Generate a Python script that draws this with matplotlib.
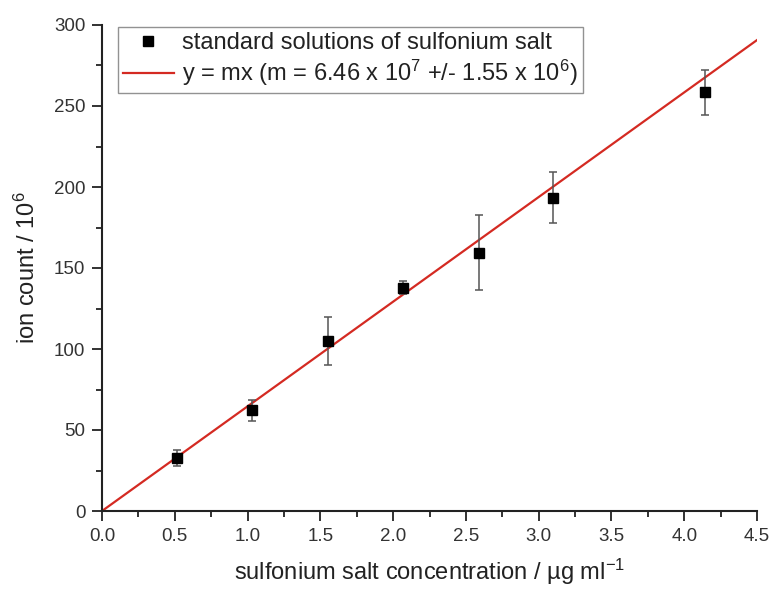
import numpy as np
import matplotlib
matplotlib.use("Agg")
from matplotlib import pyplot as plt
from matplotlib.ticker import MultipleLocator, FormatStrFormatter

"""
Calibration of sulfonium salt standards: ion count vs concentration.
"""

conc = [0.515, 1.03, 1.55, 2.07, 2.59, 3.10, 4.14]
ion_count = [32.7, 62.3, 105.0, 137.7, 159.5, 193.5, 258.5]
ion_err = [5.0, 6.5, 15.0, 4.0, 23.0, 15.5, 14.0]
slope = 64.6  # 6.46 x 10^7 / 10^6
x_fit = [0.0, 4.5]

plt.rcParams['font.family'] = ['Liberation Sans', 'DejaVu Sans']
plt.rcParams['mathtext.default'] = 'regular'

fig = plt.figure(figsize=(7.72, 5.89), dpi=100)
ax = fig.add_axes([102 / 772, 1 - 511 / 589, 655 / 772, 486 / 589])

ax.errorbar(conc, ion_count, yerr=ion_err, fmt='none', ecolor='#555555',
            elinewidth=1.1, capsize=3, capthick=1.1, zorder=3)
ax.plot(conc, ion_count, 's', color='black', ms=7, zorder=4,
        label='standard solutions of sulfonium salt')
ax.plot(x_fit, [slope * v for v in x_fit], color='#d42a22', lw=1.6, zorder=2,
        label=r'y = mx (m = 6.46 x 10$^{7}$ +/- 1.55 x 10$^{6}$)')

ax.set_xlim(0, 4.5)
ax.set_ylim(0, 300)
ax.xaxis.set_major_locator(MultipleLocator(0.5))
ax.xaxis.set_minor_locator(MultipleLocator(0.25))
ax.yaxis.set_major_locator(MultipleLocator(50))
ax.yaxis.set_minor_locator(MultipleLocator(25))
ax.xaxis.set_major_formatter(FormatStrFormatter('%.1f'))
ax.tick_params(which='major', direction='out', length=7, width=1.3, color='#222222',
               labelcolor='#333333', labelsize=13.5, pad=5)
ax.tick_params(which='minor', direction='out', length=4, width=1.3, color='#222222')

for side in ['top', 'right']:
    ax.spines[side].set_visible(False)
for side in ['left', 'bottom']:
    ax.spines[side].set_linewidth(1.5)
    ax.spines[side].set_color('#222222')

ax.set_xlabel(r'sulfonium salt concentration / µg ml$^{-1}$', fontsize=17,
              color='#222222', labelpad=9)
ax.set_ylabel(r'ion count / 10$^{6}$', fontsize=17, color='#222222', labelpad=10)

leg = ax.legend(loc='upper left', bbox_to_anchor=(0.025, 0.995),
                fancybox=False, edgecolor='#777777', fontsize=17, handlelength=2.15,
                handletextpad=0.35, labelspacing=0.15, borderpad=0.2, borderaxespad=0.0)
leg.get_frame().set_linewidth(1.0)
for t in leg.get_texts():
    t.set_color('#222222')

plt.savefig('out.png', dpi=100)
